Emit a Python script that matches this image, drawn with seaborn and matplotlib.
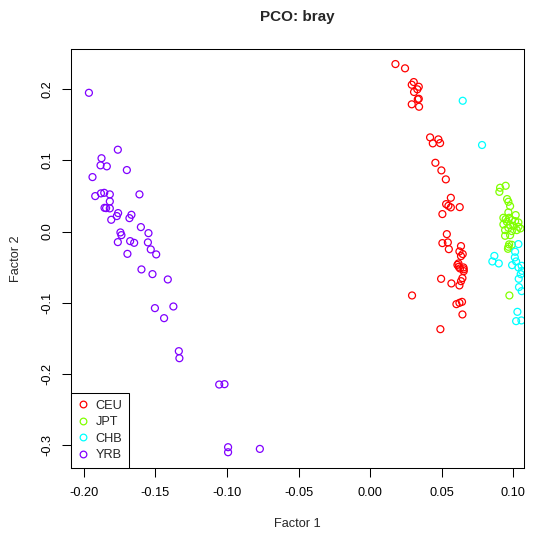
import matplotlib
matplotlib.use("Agg")
import matplotlib.pyplot as plt
from matplotlib.lines import Line2D
import seaborn as sns
import pandas as pd

# ---- data ----
groups = ["CEU", "JPT", "CHB", "YRB"]
colors = ["#FF0000", "#80FF00", "#00FFFF", "#8000FF"]

ceu_x = [0.0177, 0.0244, 0.0305, 0.0291, 0.0340, 0.0330, 0.0307, 0.0340, 0.0333, 0.0291, 0.0342,
         0.0419, 0.0477, 0.0438, 0.0489, 0.0456, 0.0498, 0.0529, 0.0564, 0.0531, 0.0547, 0.0564,
         0.0626, 0.0505, 0.0536, 0.0505, 0.0543, 0.0550, 0.0635, 0.0624, 0.0635, 0.0647, 0.0617,
         0.0610, 0.0619, 0.0652, 0.0628, 0.0654, 0.0654, 0.0645, 0.0635, 0.0624, 0.0496, 0.0568,
         0.0293, 0.0603, 0.0624, 0.0642, 0.0645, 0.0491]
ceu_y = [0.2354, 0.2294, 0.2101, 0.2063, 0.2035, 0.1999, 0.1961, 0.1866, 0.1858, 0.1788, 0.1754,
         0.1323, 0.1295, 0.1239, 0.1243, 0.0966, 0.0859, 0.0733, 0.0474, 0.0385, 0.0361, 0.0339,
         0.0343, 0.0245, -0.0037, -0.0163, -0.0153, -0.0248, -0.0205, -0.0280, -0.0346, -0.0317,
         -0.0449, -0.0469, -0.0496, -0.0505, -0.0519, -0.0531, -0.0557, -0.0655, -0.0698, -0.0758,
         -0.0665, -0.0730, -0.0899, -0.1021, -0.1003, -0.0989, -0.1166, -0.1373]

jpt_x = [0.0908, 0.0947, 0.0903, 0.0957, 0.0966, 0.0978, 0.0966, 0.1017, 0.0931, 0.0947, 0.0971,
         0.0990, 0.0955, 0.1013, 0.1036, 0.0931, 0.0978, 0.1001, 0.1036, 0.0966, 0.0943, 0.1050,
         0.0990, 0.1025, 0.0943, 0.0978, 0.0971, 0.0966, 0.0990, 0.0963, 0.0973]
jpt_y = [0.0615, 0.0643, 0.0558, 0.0456, 0.0418, 0.0357, 0.0269, 0.0231, 0.0193, 0.0174, 0.0193,
         0.0160, 0.0137, 0.0146, 0.0128, 0.0100, 0.0090, 0.0080, 0.0066, 0.0052, 0.0020, 0.0044,
         0.0006, 0.0020, -0.0060, -0.0051, -0.0181, -0.0215, -0.0187, -0.0243, -0.0899]

chb_x = [0.0647, 0.0782, 0.1036, 0.0868, 0.0854, 0.0899, 0.1013, 0.1011, 0.1020, 0.0992, 0.1036,
         0.1059, 0.1061, 0.1052, 0.1038, 0.1040, 0.1059, 0.1029, 0.1020, 0.1057]
chb_y = [0.1838, 0.1216, -0.0177, -0.0343, -0.0421, -0.0449, -0.0285, -0.0364, -0.0421, -0.0473,
         -0.0505, -0.0482, -0.0553, -0.0599, -0.0665, -0.0782, -0.0838, -0.1129, -0.1260, -0.1250]

yrb_x = [-0.1964, -0.1762, -0.1876, -0.1883, -0.1839, -0.1699, -0.1939, -0.1920, -0.1880, -0.1857,
         -0.1818, -0.1611, -0.1818, -0.1855, -0.1844, -0.1818, -0.1760, -0.1769, -0.1667, -0.1681,
         -0.1808, -0.1601, -0.1744, -0.1737, -0.1548, -0.1762, -0.1676, -0.1648, -0.1552, -0.1532,
         -0.1695, -0.1494, -0.1597, -0.1520, -0.1413, -0.1503, -0.1374, -0.1439, -0.1336, -0.1332,
         -0.1054, -0.1017, -0.0992, -0.0992, -0.0770]
yrb_y = [0.1950, 0.1150, 0.1030, 0.0930, 0.0916, 0.0864, 0.0765, 0.0498, 0.0536, 0.0544,
         0.0522, 0.0522, 0.0423, 0.0333, 0.0329, 0.0325, 0.0259, 0.0217, 0.0235, 0.0188,
         0.0165, 0.0062, -0.0013, -0.0051, -0.0023, -0.0149, -0.0135, -0.0159, -0.0153, -0.0252,
         -0.0314, -0.0322, -0.0533, -0.0599, -0.0674, -0.1077, -0.1054, -0.1218, -0.1682, -0.1781,
         -0.2151, -0.2146, -0.3032, -0.3103, -0.3056]

x_ticks = [-0.20, -0.15, -0.10, -0.05, 0.00, 0.05, 0.10]
y_ticks = [-0.3, -0.2, -0.1, 0.0, 0.1, 0.2]

frames = []
for g, xs, ys in [("CEU", ceu_x, ceu_y), ("JPT", jpt_x, jpt_y),
                  ("CHB", chb_x, chb_y), ("YRB", yrb_x, yrb_y)]:
    frames.append(pd.DataFrame({"Factor 1": xs, "Factor 2": ys, "group": g}))
df = pd.concat(frames, ignore_index=True)

sns.set_style("white")
plt.rcParams["font.family"] = ["Liberation Sans", "DejaVu Sans"]
plt.rcParams["axes.unicode_minus"] = False

FS = 9.2

fig = plt.figure(figsize=(5.36, 5.38), dpi=100)
ax = fig.add_axes([0.1325, 0.1307, 0.9776 - 0.1325, 0.9095 - 0.1307])

palette = dict(zip(groups, colors))
sns.scatterplot(data=df, x="Factor 1", y="Factor 2", hue="group", hue_order=groups,
                palette=palette, s=25, linewidth=0.9, legend=False, ax=ax)
coll = ax.collections[0]
fcs = coll.get_facecolors()
coll.set_edgecolors(fcs)
coll.set_facecolors("none")
coll.set_linewidths(0.9)

ax.set_xlim(-0.2089, 0.1075)
ax.set_ylim(-0.332, 0.257)
ax.set_xticks(x_ticks)
ax.set_xticklabels([f"{v:.2f}" for v in x_ticks])
ax.set_yticks(y_ticks)
ax.set_yticklabels([f"{v:.1f}" for v in y_ticks], rotation=90, va="center")
ax.tick_params(axis="both", direction="out", length=6.5, width=0.75, color="black",
               labelsize=FS, labelcolor="black", left=True, bottom=True)
ax.tick_params(axis="x", pad=7.5)
ax.tick_params(axis="y", pad=6)
for sp in ax.spines.values():
    sp.set_visible(True)
    sp.set_color("black")
    sp.set_linewidth(0.75)
ax.set_xlabel("")
ax.set_ylabel("")

fig.text(0.555, 1 - 17 / 538, "PCO: bray", ha="center", va="center",
         fontsize=11, fontweight="bold")
fig.text(0.555, 1 - 524 / 538, "Factor 1", ha="center", va="center", fontsize=FS)
fig.text(16 / 536, 0.52, "Factor 2", ha="center", va="center", rotation=90, fontsize=FS)

handles = [Line2D([0], [0], marker="o", linestyle="none", markerfacecolor="none",
                  markeredgecolor=c, markersize=4.8, markeredgewidth=0.9) for c in colors]
leg = ax.legend(handles, groups, loc="lower left", borderaxespad=0, fontsize=FS,
                frameon=True, fancybox=False, edgecolor="black", framealpha=1,
                labelspacing=0.35, handlelength=0.9, handletextpad=0.5,
                borderpad=0.5)
leg.get_frame().set_linewidth(0.75)

fig.savefig("out.png", dpi=100)
